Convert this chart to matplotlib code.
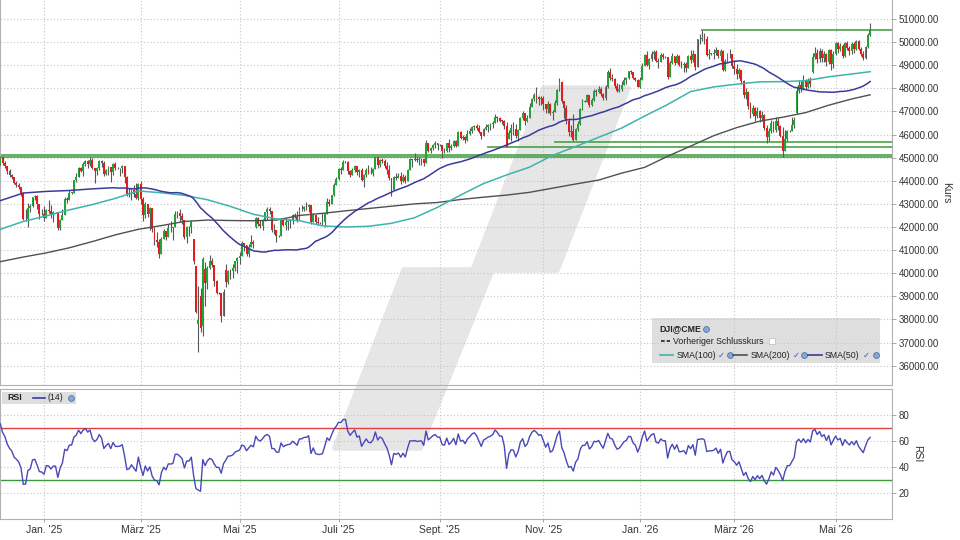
import numpy as np
import pandas as pd
import matplotlib
matplotlib.use("Agg")
import matplotlib.pyplot as plt
from matplotlib.patches import Polygon, Rectangle
from matplotlib.lines import Line2D

# DJI@CME daily candles, 4 Dec 2024 - 22 May 2026 (weekdays, no 25 Dec / 1 Jan)
closes = [
    45014, 44766, 44643, 44402, 44248, 44149, 43914, 43828, 43717, 43450, 42327, 42342, 42840, 42907, 43297, 43326, 42992, 42574, 42544,  # Dec 24
    42392, 42732, 42707, 42528, 42635, 42635, 41938, 42297, 42518, 43222, 43153, 43488, 43488, 44026, 44157, 44565, 44424, 44714, 44850, 44714, 44882, 44545,  # Jan 25
    44422, 44556, 44873, 44748, 44303, 44470, 44594, 44369, 44711, 44546, 44546, 44556, 44628, 44177, 43428, 43461, 43621, 43433, 43240, 43841,  # Feb
    43191, 42521, 43007, 42579, 42802, 41912, 41433, 41351, 40814, 41488, 41842, 41581, 41965, 41953, 41985, 42583, 42588, 42455, 42300, 41584, 42002,  # Mar
    41990, 42225, 40546, 38315, 37966, 37646, 40608, 39594, 40213, 40525, 40369, 39669, 39142, 39142, 38170, 39187, 39607, 40093, 40114, 40228, 40528, 40669,  # Apr
    40753, 41317, 41219, 40829, 41114, 41368, 41249, 42410, 42140, 42051, 42323, 42655, 42792, 42677, 41860, 41859, 41603, 41603, 42344, 42099, 42216, 42270,  # May
    42305, 42520, 42428, 42320, 42763, 42762, 42867, 42866, 42968, 42198, 42515, 42216, 42172, 42172, 42207, 42582, 43089, 42982, 43387, 43819, 44095,  # Jun
    44495, 44484, 44829, 44829, 44406, 44241, 44458, 44651, 44372, 44460, 44023, 44255, 44484, 44342, 44323, 44502, 45010, 44694, 44902, 44838, 44633, 44461, 44131,  # Jul
    43589, 44174, 44112, 44193, 43969, 44176, 43975, 44459, 44922, 44912, 44946, 44911, 44922, 44938, 44786, 45632, 45282, 45418, 45565, 45637, 45545,  # Aug
    45545, 45296, 45271, 45621, 45401, 45515, 45711, 45491, 46108, 45834, 45883, 45758, 46018, 46142, 46315, 46382, 46293, 46121, 45947, 46247, 46316, 46398,  # Sep
    46441, 46520, 46758, 46695, 46603, 46602, 46358, 45480, 46068, 46270, 46253, 45952, 46191, 46707, 46925, 46590, 46735, 47207, 47545, 47706, 47632, 47522, 47563,  # Oct
    47337, 47085, 47311, 46912, 46987, 47369, 47928, 48255, 47457, 47147, 46590, 46092, 46139, 45752, 46245, 46448, 47112, 47427, 47427, 47716,  # Nov
    47289, 47474, 47883, 47851, 47955, 47739, 47560, 48058, 48704, 48458, 48417, 48114, 47886, 47952, 48135, 48363, 48442, 48731, 48711, 48462, 48367, 48063,  # Dec
    48382, 48977, 49462, 48996, 49266, 49504, 49590, 49192, 49150, 49442, 49359, 49359, 48489, 49077, 49384, 49099, 49412, 49003, 49016, 49072, 48892,  # Jan 26
    49408, 49241, 49501, 48909, 50116, 50136, 50188, 50121, 49452, 49501, 49501, 49533, 49663, 49395, 49626, 48804, 49175, 49482, 49499, 48978,  # Feb
    48850, 48600, 48780, 48300, 47700, 47850, 47250, 46900, 47150, 46800, 47000, 46700, 46850, 46300, 45900, 46150, 46500, 46200, 46600, 46350, 45950, 45300,  # Mar
    45800, 46150, 46150, 46400, 46650, 47900, 48150, 47950, 48300, 48050, 48350, 48200, 49350, 49550, 49250, 49600, 49300, 49500, 49150, 49650, 49050, 49500,  # Apr
    49950, 49700, 49850, 49400, 49950, 49750, 49600, 49900, 49700, 50050, 49700, 49500, 49300, 49800, 50300, 50550,  # May
]
highs = [
    45074, 45050, 44860, 44650, 44500, 44300, 44180, 44000, 43900, 43720, 43530, 42800, 43050, 43000, 43300, 43400, 43390, 42920, 42800,
    42900, 42800, 43150, 42950, 42700, 42660, 42630, 42330, 42800, 43300, 43300, 43600, 43520, 44050, 44350, 44600, 44600, 44800, 44900, 44900, 45050, 45000,
    44550, 44600, 44900, 44900, 44850, 44500, 44640, 44500, 44750, 44800, 44600, 44570, 44700, 44620, 44200, 43700, 43700, 43800, 43900, 43900,
    44000, 43300, 43100, 43000, 42850, 42700, 42000, 41800, 41500, 41560, 41900, 41800, 42150, 42280, 42000, 42700, 42700, 42800, 42600, 42300, 42050,
    42050, 42300, 41500, 40300, 39430, 39380, 40700, 40500, 40300, 40800, 40650, 40350, 39700, 39200, 39150, 39300, 40380, 40150, 40200, 40400, 40550, 40700,
    40900, 41400, 41300, 41150, 41250, 41650, 41450, 42450, 42450, 42300, 42350, 42660, 42850, 42850, 42700, 42150, 41800, 41650, 42400, 42350, 42400, 42300,
    42350, 42550, 42600, 42700, 42850, 42950, 42900, 43100, 42990, 42700, 42600, 42500, 42450, 42200, 42600, 42600, 43250, 43200, 43400, 43900, 44150,
    44550, 44600, 44900, 44850, 44850, 44450, 44550, 44700, 44600, 44500, 44550, 44300, 44550, 44700, 44600, 44550, 45050, 45050, 44950, 45000, 44950, 44800, 44700,
    44000, 44200, 44350, 44350, 44400, 44300, 44250, 44500, 45000, 44950, 45200, 45050, 45050, 45000, 44950, 45760, 45600, 45450, 45600, 45700, 45600,
    45570, 45530, 45400, 45650, 45800, 45600, 45750, 45760, 46150, 46150, 46000, 45950, 46200, 46280, 46350, 46420, 46470, 46400, 46100, 46300, 46440, 46450,
    46500, 46600, 46900, 46800, 46750, 46650, 46650, 46550, 46200, 46450, 46550, 46450, 46250, 46750, 47000, 46950, 46850, 47350, 47600, 47800, 48050, 47650, 47650,
    47650, 47300, 47450, 47350, 47050, 47500, 47950, 48430, 48250, 47400, 47300, 46700, 46400, 46900, 46300, 46600, 47150, 47550, 47480, 47750,
    47600, 47600, 47950, 47950, 48100, 48050, 47800, 48150, 48800, 48900, 48600, 48450, 48250, 48200, 48300, 48500, 48480, 48760, 48800, 48700, 48500, 48400,
    48500, 49100, 49500, 49600, 49300, 49600, 49650, 49650, 49300, 49550, 49550, 49400, 49100, 49200, 49550, 49400, 49480, 49450, 49200, 49150, 49150,
    49450, 49650, 49650, 49400, 50150, 50350, 50512, 50400, 50250, 49700, 49550, 49700, 49800, 49600, 49700, 49650, 49250, 49550, 49700, 49500,
    49230, 49050, 48900, 48800, 48350, 48000, 47900, 47400, 47300, 47200, 47200, 47050, 47000, 46900, 46400, 46300, 46650, 46600, 46760, 46700, 46400, 46330,
    46200, 46200, 46200, 46750, 46760, 48100, 48360, 48300, 48580, 48400, 48450, 48500, 49550, 49790, 49700, 49750, 49700, 49600, 49550, 49700, 49700, 49600,
    50000, 50000, 49950, 49900, 50000, 50050, 49850, 50000, 50000, 50100, 50100, 49800, 49600, 49850, 50400, 50830,
]
lows = [
    44700, 44700, 44560, 44310, 44180, 44060, 43880, 43730, 43640, 43350, 42290, 42280, 42020, 42630, 42870, 43160, 42760, 42330, 42500,
    42250, 42400, 42600, 42400, 42200, 42600, 41850, 41850, 42300, 42550, 43030, 43180, 43440, 43500, 43950, 44150, 44400, 44200, 44650, 44550, 44650, 44500,
    43900, 44270, 44450, 44600, 44200, 44250, 44250, 43950, 44250, 44450, 44500, 44200, 44350, 43900, 43350, 43280, 43150, 43300, 43200, 43150,
    43000, 42250, 42400, 42450, 41850, 41800, 41200, 41150, 40660, 40900, 41500, 41450, 41550, 41800, 41450, 42200, 42400, 42200, 42150, 41500, 41300,
    41600, 41750, 40400, 38300, 36611, 37450, 37300, 38600, 39300, 40200, 40250, 39450, 39100, 39100, 37900, 38400, 39400, 39550, 39750, 39800, 40100, 40000,
    40400, 40850, 40950, 40750, 40700, 41150, 41100, 41950, 42050, 41950, 41850, 42250, 42300, 42550, 41800, 41700, 41350, 41550, 41650, 42050, 41850, 41850,
    41950, 42150, 42380, 42200, 42450, 42700, 42700, 42750, 42650, 42150, 42250, 42150, 42100, 42150, 42100, 42000, 42700, 42900, 43000, 43350, 43800,
    44050, 44300, 44500, 44780, 44300, 44150, 44250, 44400, 44250, 44150, 44000, 43750, 44150, 44300, 44300, 44200, 44500, 44550, 44600, 44750, 44550, 44300, 44050,
    43350, 43650, 44050, 44100, 43850, 43950, 43900, 44000, 44500, 44600, 44850, 44800, 44700, 44700, 44650, 44800, 45250, 45200, 45350, 45400, 45350,
    45500, 45000, 45200, 45250, 45250, 45350, 45450, 45450, 45500, 45800, 45750, 45650, 45700, 46000, 46050, 46200, 46200, 46080, 45800, 45950, 46200, 46100,
    46200, 46300, 46500, 46550, 46550, 46450, 46250, 45450, 45800, 45700, 46000, 45850, 45700, 46200, 46650, 46400, 46550, 46900, 47350, 47450, 47350, 47300, 47300,
    47050, 46950, 46950, 46850, 46650, 47000, 47300, 47900, 47350, 46700, 46450, 45950, 45900, 45700, 45750, 46150, 46400, 47050, 47400, 47400,
    47200, 47250, 47450, 47650, 47800, 47650, 47500, 47500, 48000, 48350, 48300, 48000, 47850, 47850, 47900, 48150, 48200, 48400, 48600, 48400, 48300, 48050,
    48000, 48400, 48950, 48950, 48850, 49200, 49250, 49150, 48900, 49200, 49250, 49300, 48400, 48500, 49050, 49000, 49100, 48950, 48900, 48700, 48700,
    48900, 49100, 49150, 48800, 48950, 49900, 50050, 49900, 49400, 49250, 49450, 49250, 49450, 49300, 49200, 48750, 48750, 49150, 49300, 48900,
    48600, 48400, 48450, 48200, 47600, 47550, 47100, 46700, 46800, 46600, 46700, 46550, 46600, 46200, 45650, 45700, 46050, 46100, 46100, 46200, 45900, 45050,
    45460, 45700, 46100, 46250, 46300, 46900, 47800, 47850, 47930, 47950, 48000, 48050, 48650, 49250, 49100, 49150, 49150, 49150, 48950, 49050, 48800, 48900,
    49450, 49550, 49600, 49300, 49350, 49650, 49450, 49500, 49550, 49650, 49650, 49400, 49230, 49250, 49750, 50250,
]
first_open = 44706
# days that opened away from the prior close
gap_opens = {
    "2025-04-03": 41500, "2025-04-04": 40300, "2025-04-07": 37800, "2025-04-08": 39000,
    "2025-04-09": 37700, "2025-04-10": 40200, "2025-04-23": 40150, "2025-05-12": 42000,
    "2025-10-13": 45800, "2026-04-08": 46950, "2026-04-17": 48700,
}
# Nov 2024 closes, only used to start the RSI
warmup_closes = [42052, 41795, 42222, 43730, 43729, 43989, 44293, 43911, 43958, 43751, 43445, 43390,
                 43269, 43408, 43870, 44297, 44737, 44860, 44722, 44722, 44911, 44782, 44706]

# moving averages every 10 candles (+ last candle)
sma_step = 10
sma100_pts = [41900, 42240, 42480, 42740, 42970, 43240, 43560, 43480, 43370, 43180, 42890, 42550, 42350,
              42270, 42050, 42000, 42030, 42160, 42400, 42850, 43380, 43880, 44250, 44590, 45100, 45480,
              45880, 46280, 46800, 47300, 47860, 48060, 48180, 48280, 48290, 48330, 48500, 48620, 48720]
sma200_pts = [40500, 40700, 40880, 41100, 41370, 41660, 41900, 42060, 42240, 42300, 42280, 42270, 42300,
              42500, 42590, 42700, 42800, 42900, 43000, 43060, 43190, 43290, 43380, 43500, 43680, 43860,
              44030, 44330, 44580, 45060, 45500, 45950, 46300, 46580, 46750, 46950, 47270, 47540, 47720]
sma50_head = [43140, 43470, 43540, 43580, 43650]   # before 50 candles exist

levels = [45040, 45110, 45448, 45677, 50512]
level_from = ["2024-12-04", "2024-12-04", "2025-09-30", "2025-11-10", "2026-02-10"]

month_names = {1: "Jan.", 3: "März", 5: "Mai", 7: "Juli", 9: "Sept.", 11: "Nov."}
price_ticks = list(range(36000, 51001, 1000))
rsi_ticks = [20, 40, 60, 80]

GREEN = "#22a33a"
RED = "#e51c1c"
WICK = "#585858"
GRID = "#c4c4c4"
FRAME = "#b0b0b0"

plt.rcParams["font.family"] = ["Liberation Sans", "DejaVu Sans"]

n = len(closes)
days = pd.bdate_range("2024-12-04", "2026-07-31")
days = days[~(((days.month == 12) & (days.day == 25)) | ((days.month == 1) & (days.day == 1)))][:n]
x = np.arange(n)

c = np.array(closes, float)
o = np.r_[first_open, c[:-1]]
for d, v in gap_opens.items():
    o[days.get_loc(pd.Timestamp(d))] = v
h = np.maximum(np.array(highs[:n], float), np.maximum(o, c))
l = np.minimum(np.array(lows[:n], float), np.minimum(o, c))

# RSI(14), Wilder smoothing
allc = pd.Series(warmup_closes + closes, dtype=float)
delta = allc.diff().fillna(0)
gain = delta.clip(lower=0).ewm(alpha=1 / 14, adjust=False).mean()
loss = (-delta.clip(upper=0)).ewm(alpha=1 / 14, adjust=False).mean()
rsi = (100 - 100 / (1 + gain / loss)).to_numpy()[len(warmup_closes):]

sma50 = pd.Series(c).rolling(50).mean().to_numpy()
sma50_x = np.r_[np.arange(len(sma50_head)) * sma_step, np.arange(49, n)]
sma50_y = np.r_[sma50_head, sma50[49:]]
sma_x = np.r_[np.arange(0, n, sma_step), n - 1]

new_month = np.r_[False, days.month[1:] != days.month[:-1]]
tick_pos = [i for i in range(n) if new_month[i] and days[i].month in month_names]
tick_lab = [f"{month_names[days[i].month]} '{days[i].year % 100:02d}" for i in tick_pos]

W, H = 960, 540
fig = plt.figure(figsize=(9.6, 5.4), dpi=100)
fig.patch.set_facecolor("white")


def fx(px):
    return px / W


def fy(py):
    return 1 - py / H


# background logo
logo = [(544, 88), (628, 88), (557, 270), (492, 270), (420, 448), (335, 448), (404, 270), (473, 270)]
fig.add_artist(Polygon([(fx(a), fy(b)) for a, b in logo], closed=True, transform=fig.transFigure,
                       facecolor="#e6e6e6", edgecolor="#e6e6e6", lw=4, joinstyle="round", zorder=-2))

ax = fig.add_axes([0, fy(385), fx(892), 385 / H])
ax2 = fig.add_axes([0, fy(519), fx(892), 130 / H])
xlim = (-0.13, 387.5)

for a in (ax, ax2):
    a.set_facecolor("none")
    a.set_xlim(*xlim)
    a.set_axisbelow(True)
    a.set_xticks(tick_pos)
    a.grid(True, color=GRID, linestyle=(0, (1, 2)), lw=0.8)
    for s in a.spines.values():
        s.set_color(FRAME)
        s.set_linewidth(0.8)
    a.yaxis.tick_right()
    a.yaxis.set_label_position("right")
    a.tick_params(axis="y", direction="out", length=3, width=0.6, color="#999999",
                  labelsize=7, labelcolor="#333333", pad=2)
ax.spines["top"].set_visible(False)

# price panel
ax.set_ylim(35163, 51822)
ax.set_yticks(price_ticks)
ax.set_yticklabels([f"{v:.2f}" for v in price_ticks])
ax.tick_params(axis="x", length=0, labelbottom=False)
ax.set_ylabel("Kurs", rotation=270, va="bottom", fontsize=7.5, color="#333333", labelpad=1)

for lv, d0 in zip(levels, level_from):
    i0 = days.get_loc(pd.Timestamp(d0))
    ax.hlines(lv, i0 - 0.5, xlim[1], color="#3a9a3a", lw=1.1, zorder=2)

ax.plot(sma_x, sma200_pts, color="#505050", lw=1.0, zorder=5)
ax.plot(sma_x, sma100_pts, color="#3fb3ad", lw=1.1, zorder=5)
ax.plot(sma50_x, sma50_y, color="#3a3a9c", lw=1.1, zorder=5)

ax.vlines(x, l, h, color=WICK, lw=0.8, zorder=3)
up = c >= o
lo = np.minimum(o, c)
ht = np.maximum(np.abs(c - o), 15)
ax.bar(x[up], ht[up], bottom=lo[up], width=0.82, color=GREEN, lw=0, zorder=4)
ax.bar(x[~up], ht[~up], bottom=lo[~up], width=0.82, color=RED, lw=0, zorder=4)

# RSI panel
ax2.set_ylim(0, 100)
ax2.set_yticks(rsi_ticks)
ax2.set_xticklabels(tick_lab)
ax2.tick_params(axis="x", length=2, width=0.6, color="#999999", labelsize=7.5, labelcolor="#333333", pad=2)
ax2.set_ylabel("RSI", rotation=270, va="bottom", fontsize=7.5, color="#333333", labelpad=2)
ax2.axhline(70, color="#e04040", lw=1.0, zorder=2)
ax2.axhline(30, color="#3a9a3a", lw=1.0, zorder=2)
ax2.plot(x, rsi, color="#4848b8", lw=1.0, zorder=4)


# legend boxes (figure pixels)
def box(x0, y0, x1, y1):
    fig.add_artist(Rectangle((fx(x0), fy(y1)), fx(x1) - fx(x0), (y1 - y0) / H, transform=fig.transFigure,
                             facecolor="#dedede", edgecolor="none", zorder=-1))


def seg(x0, x1, yy, color, ls="-"):
    fig.add_artist(Line2D([fx(x0), fx(x1)], [fy(yy), fy(yy)], transform=fig.transFigure,
                          color=color, lw=1.2, ls=ls, zorder=4))


def icon(px, py):
    fig.add_artist(Line2D([fx(px)], [fy(py)], transform=fig.transFigure, marker="o", ms=4.2,
                          mfc="#86a8d8", mec="#4f74aa", mew=0.6, zorder=4))


def txt(px, py, s, **kw):
    fig.text(fx(px), fy(py), s, va="center", ha="left", fontsize=6.3, color="#222222", **kw)


def tick_mark(px, py):
    fig.text(fx(px), fy(py), "\u2713", va="center", ha="center", fontsize=6, color="#2f62c0",
             family=["DejaVu Sans"])


box(652, 318, 880, 363)
txt(659, 329, "DJI@CME", fontweight="bold")
icon(706, 329)
seg(661, 670, 341, "#222222", ls=(0, (2.2, 1.2)))
txt(673, 341, "Vorheriger Schlusskurs")
fig.add_artist(Rectangle((fx(769), fy(344)), 6 / W, 6 / H, transform=fig.transFigure,
                         facecolor="white", edgecolor="#bbbbbb", lw=0.5, zorder=4))
seg(660, 673, 355, "#3fb3ad")
txt(677, 355, "SMA(100)")
tick_mark(721, 355)
icon(730, 355)
seg(733, 747, 355, "#505050")
txt(751, 355, "SMA(200)")
tick_mark(796, 355)
icon(804, 355)
seg(808, 822, 355, "#3a3a9c")
txt(825, 355, "SMA(50)")
tick_mark(866, 355)
icon(876, 355)

box(2, 392, 76, 404)
txt(7, 398, "RSI", fontweight="bold")
seg(33, 45, 398, "#3a3a9c")
txt(48, 398, "(14)")
icon(71, 398)

fig.savefig("out.png", dpi=100)
